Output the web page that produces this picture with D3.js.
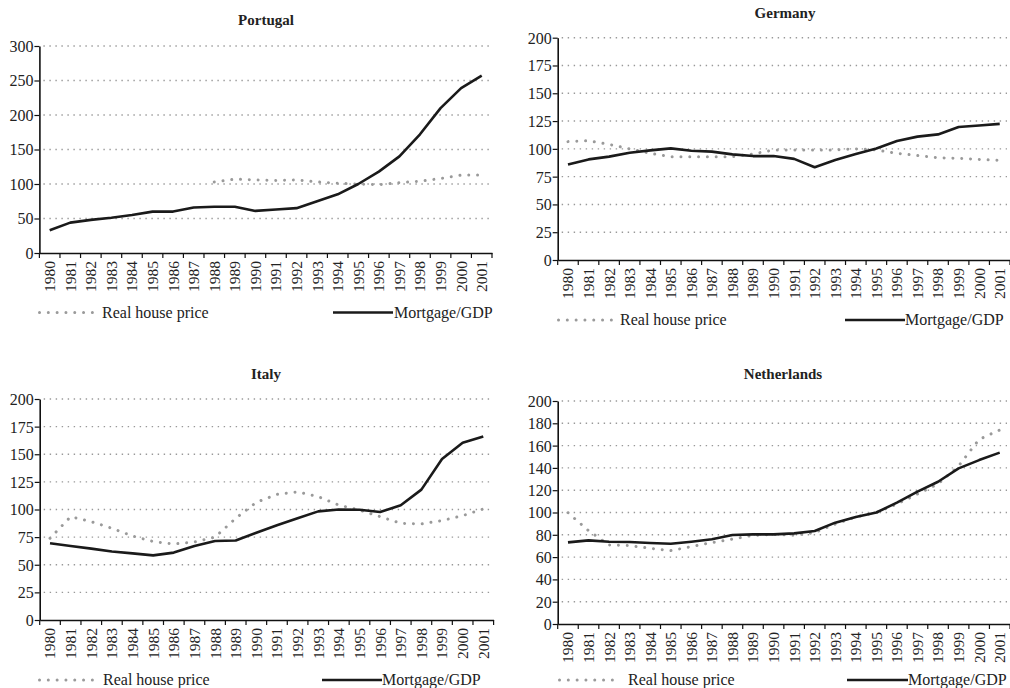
<!DOCTYPE html>
<html><head><meta charset="utf-8">
<script src="https://cdn.jsdelivr.net/npm/d3@7"></script>
<style>
html,body{margin:0;padding:0;background:#fff;}
svg text{font-family:"Liberation Serif","Times New Roman",serif;fill:#222;}
</style></head>
<body><svg id="c" width="1010" height="688"></svg>
<script>
const years = ["1980","1981","1982","1983","1984","1985","1986","1987","1988","1989","1990","1991","1992","1993","1994","1995","1996","1997","1998","1999","2000","2001"];
const countries = ["Portugal","Germany","Italy","Netherlands"];
const seriesNames = ["Real house price","Mortgage/GDP"];

const portugalHouse = [null,null,null,null,null,null,null,null,103,107,106,105,106,103,101,100,99,102,104,108,113,113];
const portugalMortgage = [33,44,48,51,55,60,60,66,67,67,61,63,65,75,85,100,118,140,172,210,239,257];
const germanyHouse = [106.5,107.3,104,100,96,93,93,93,93,95.4,99,99,99,99,100,99,96,94,92,91.5,90.5,89.6];
const germanyMortgage = [86,90.5,93,96.5,98.6,100.4,98.3,97.5,95,93.5,93.5,91,83.5,90,95.4,100.4,107,111,113,119.6,121,122.5];
const italyHouse = [74,93.5,89,83,76,71,68.8,70.6,75,92,106.5,113.7,116,111.6,104,99.5,93.5,87.5,87,90,94.4,100.5];
const italyMortgage = [69.4,67,64.6,62,60.3,58.5,61,67,71.5,72,79,85.7,92,98.3,100,99.8,97.7,103.8,118,145.7,160.5,166];
const netherlandsHouse = [99.8,83.7,70.9,70.3,67.9,65.8,69.4,73,76.2,79.5,80.4,79.5,82,89.7,96,100,107.6,116.6,125.6,141.7,165.6,174];
const netherlandsMortgage = [73.2,75,73.8,73.5,72.6,72,73.8,76,79.8,80.4,80.4,81.3,83.4,90.9,96,100,108.8,118.7,127.6,139.6,147,153.7];

const yTicksPortugal = [0,50,100,150,200,250,300];
const yTicksGermany = [0,25,50,75,100,125,150,175,200];
const yTicksItaly = [0,25,50,75,100,125,150,175,200];
const yTicksNetherlands = [0,20,40,60,80,100,120,140,160,180,200];

const data = {
  Portugal:{house:portugalHouse, mort:portugalMortgage, ticks:yTicksPortugal},
  Germany:{house:germanyHouse, mort:germanyMortgage, ticks:yTicksGermany},
  Italy:{house:italyHouse, mort:italyMortgage, ticks:yTicksItaly},
  Netherlands:{house:netherlandsHouse, mort:netherlandsMortgage, ticks:yTicksNetherlands}
};

// layout (pixel geometry)
const layout = {
  Portugal:{l:39.4,r:492,t:46,b:253,titleY:25,titleX:266,legY:312.5,dot:[38,97],dotText:102,sol:[333,393],solText:394},
  Germany:{l:557.7,r:1010,t:37.7,b:260,titleY:18,titleX:785,legY:320,dot:[557,615],dotText:620,sol:[845,905],solText:905},
  Italy:{l:39.7,r:493.6,t:399,b:620,titleY:379,titleX:266,legY:680,dot:[38,97],dotText:103,sol:[322,382],solText:382},
  Netherlands:{l:557.7,r:1010,t:401,b:624,titleY:379,titleX:783,legY:680,dot:[558,620],dotText:628,sol:[847,908],solText:908}
};

const svg = d3.select("#c");
const fs = 16;
const dotStyle = sel => sel.attr("stroke", "#9a9a9a").attr("stroke-width", 3).attr("stroke-linecap", "round").attr("stroke-dasharray", "0.01,8.8");

countries.forEach(name => {
  const d = data[name], L = layout[name];
  const g = svg.append("g");
  const x = d3.scaleBand().domain(years).range([L.l, L.r]).paddingInner(0).paddingOuter(0);
  const ymax = d.ticks[d.ticks.length-1];
  const y = d3.scaleLinear().domain([0, ymax]).range([L.b, L.t]);

  // gridlines
  g.selectAll(".grid").data(d.ticks.filter(v => v > 0)).enter().append("line")
    .attr("x1", L.l + 4).attr("x2", L.r - 3)
    .attr("y1", v => y(v)).attr("y2", v => y(v))
    .attr("stroke", "#999").attr("stroke-width", 1.4).attr("stroke-dasharray", "1.4,4.6");

  // y axis
  const ya = d3.axisLeft(y).tickValues(d.ticks).tickSize(5).tickSizeOuter(0).tickPadding(1);
  const yg = g.append("g").attr("transform", `translate(${L.l},0)`).call(ya);
  yg.attr("font-family", null);
  yg.select(".domain").attr("stroke", "#111").attr("stroke-width", 1.6);
  yg.selectAll(".tick line").attr("stroke", "#111").attr("stroke-width", 1.2);
  yg.selectAll("text").attr("font-size", fs).attr("fill", "#222").attr("dy", "0.34em");

  // x axis
  const xa = d3.axisBottom(x).tickSize(0).tickSizeOuter(0);
  const xg = g.append("g").attr("transform", `translate(0,${L.b})`).call(xa);
  xg.attr("font-family", null);
  xg.select(".domain").attr("stroke", "#111").attr("stroke-width", 1.6);
  xg.selectAll(".tick text").attr("font-size", 15.5).attr("fill", "#222")
    .attr("text-anchor", "end").attr("transform", "translate(0,8) rotate(-90)")
    .attr("x", 0).attr("y", 0).attr("dy", "0.35em");
  // boundary ticks
  const bounds = years.map(v => x(v)).concat([x(years[years.length-1]) + x.bandwidth()]);
  g.selectAll(".xt").data(bounds).enter().append("line")
    .attr("x1", v => v).attr("x2", v => v).attr("y1", L.b).attr("y2", L.b + 5)
    .attr("stroke", "#111").attr("stroke-width", 1.2);

  const cx = i => x(years[i]) + x.bandwidth() / 2;
  const line = d3.line().defined(v => v != null).x((v, i) => cx(i)).y(v => y(v));

  g.append("path").datum(d.house).attr("d", line).attr("fill", "none").call(dotStyle);
  g.append("path").datum(d.mort).attr("d", line).attr("fill", "none")
    .attr("stroke", "#1a1a1a").attr("stroke-width", 2.6).attr("stroke-linejoin", "round");

  // title
  g.append("text").attr("x", L.titleX).attr("y", L.titleY).attr("text-anchor", "middle")
    .attr("font-size", 15).attr("font-weight", "bold").text(name);

  // legend
  g.append("line").attr("x1", L.dot[0] + 1.5).attr("x2", L.dot[1]).attr("y1", L.legY).attr("y2", L.legY).call(dotStyle);
  g.append("text").attr("x", L.dotText).attr("y", L.legY).attr("dy", "0.33em").attr("font-size", fs).text(seriesNames[0]);
  g.append("line").attr("x1", L.sol[0]).attr("x2", L.sol[1]).attr("y1", L.legY).attr("y2", L.legY)
    .attr("stroke", "#1a1a1a").attr("stroke-width", 2.6);
  g.append("text").attr("x", L.solText).attr("y", L.legY).attr("dy", "0.33em").attr("font-size", fs).text(seriesNames[1]);
});
</script></body></html>
